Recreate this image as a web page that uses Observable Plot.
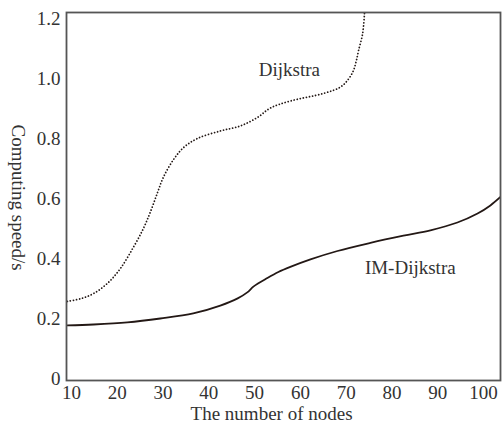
<!DOCTYPE html>
<html>
<head>
<meta charset="utf-8">
<script src="https://cdn.jsdelivr.net/npm/d3@7"></script>
<script src="https://cdn.jsdelivr.net/npm/@observablehq/plot@0.6"></script>
<style>
  html, body { margin: 0; padding: 0; background: #fff; }
  #chart svg { display: block; }
  #chart svg text { font-family: 'Liberation Serif', 'DejaVu Serif', serif !important; font-variant: normal !important; }
</style>
</head>
<body>
<div id="chart"></div>
<script>
// Dijkstra (dotted)
const dijkstraX = [9.1, 12.0, 14.8, 17.9, 20.7, 23.5, 25.7, 27.3, 28.8, 30.1, 32.3, 34.5, 37.5, 42.5, 46.9, 50.6, 53.5, 57.8, 65.0, 68.8, 70.5, 71.6, 72.2, 72.7, 73.6, 74.0];
const dijkstraY = [0.257, 0.266, 0.283, 0.318, 0.367, 0.437, 0.5, 0.558, 0.62, 0.672, 0.73, 0.77, 0.8, 0.825, 0.842, 0.87, 0.902, 0.925, 0.95, 0.972, 0.998, 1.027, 1.058, 1.093, 1.15, 1.217];
// IM-Dijkstra (solid)
const imX = [9.1, 14.8, 22.2, 29.4, 36.6, 42.5, 46.3, 48.4, 49.8, 52.8, 55.2, 57.8, 62.2, 68.1, 75.3, 82.5, 88.4, 94.3, 98.7, 101.5, 103.7];
const imY = [0.177, 0.18, 0.187, 0.2, 0.217, 0.243, 0.267, 0.287, 0.307, 0.335, 0.355, 0.372, 0.397, 0.425, 0.452, 0.476, 0.494, 0.52, 0.55, 0.577, 0.605];

const xTicks = [10, 20, 30, 40, 50, 60, 70, 80, 90, 100];
const yTicks = [0, 0.2, 0.4, 0.6, 0.8, 1.0, 1.2];
const xTitle = "The number of nodes";
const yTitle = "Computing speed/s";
const seriesLabels = [
  {name: "Dijkstra", x: 57.6, y: 1.027},
  {name: "IM-Dijkstra", x: 84.0, y: 0.367}
];

const dijkstra = dijkstraX.map((x, i) => ({x, y: dijkstraY[i]}));
const im = imX.map((x, i) => ({x, y: imY[i]}));

const ink = "#231815";
const font = "'Liberation Serif', 'DejaVu Serif', serif";

const chart = Plot.plot({
  width: 502,
  height: 428,
  marginLeft: 66,
  marginRight: 2,
  marginTop: 12,
  marginBottom: 48,
  style: {fontFamily: font, fontSize: "19px", color: "#333", background: "#fff"},
  x: {domain: [8.908, 103.71]},
  y: {domain: [-0.00667, 1.22]},
  marks: [
    Plot.axisX({ticks: xTicks, tickSize: 0, tickPadding: 5, label: null, fontSize: 19, fontFamily: font, fill: "#333"}),
    Plot.axisY({ticks: yTicks, tickSize: 0, tickPadding: 6, label: null, fontSize: 19, fontFamily: font, fill: "#333",
      tickFormat: d => d === 0 ? "0" : d.toFixed(1)}),
    Plot.line(im, {x: "x", y: "y", curve: "catmull-rom", stroke: ink, strokeWidth: 1.8, clip: true}),
    Plot.line(dijkstra, {x: "x", y: "y", curve: "catmull-rom", stroke: ink, strokeWidth: 1.8, strokeDasharray: "0.01,3.1", strokeLinecap: "round", clip: true}),
    Plot.text(seriesLabels, {x: "x", y: "y", text: "name", fontSize: 19, fill: "#333", fontFamily: font}),
    Plot.text([xTitle], {x: [53.7], frameAnchor: "bottom", dy: 39, textAnchor: "middle", fontSize: 19, fill: "#333", fontFamily: font}),
    Plot.text([yTitle], {y: [0.603], frameAnchor: "left", dx: -48, rotate: 90, textAnchor: "middle", fontSize: 19, fill: "#333", fontFamily: font}),
    Plot.frame({stroke: "#555", strokeWidth: 1.8})
  ]
});
document.getElementById("chart").appendChild(chart);
</script>
</body>
</html>
